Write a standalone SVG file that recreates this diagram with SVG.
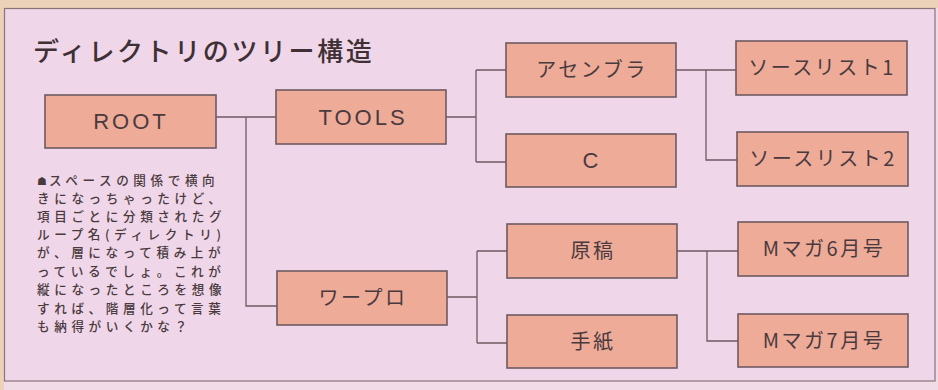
<svg xmlns="http://www.w3.org/2000/svg" width="938" height="390" viewBox="0 0 938 390">
<defs>
<style>
.box{fill:#eeab98;stroke:#6e5a62;stroke-width:1.6}
.lbl{font-family:"Noto Sans CJK JP","Noto Sans",sans-serif;font-size:20px;font-weight:400;fill:#4a3a3e;text-anchor:middle;letter-spacing:2.5px}
.lat{font-family:"Liberation Sans","Noto Sans",sans-serif;font-size:22px;fill:#4a3a3e;text-anchor:middle;letter-spacing:3px}
.cap{font-family:"Noto Sans CJK JP",sans-serif;font-size:12.6px;font-weight:500;fill:#4a3a3e;letter-spacing:4.6px}
.con{fill:none;stroke:#6e5a62;stroke-width:1.3}
</style>
</defs>
<rect x="0" y="0" width="938" height="390" fill="#f0dbe6"/>
<rect x="0" y="0" width="938" height="8" fill="#ebd2b8"/>
<rect x="0" y="0" width="4" height="390" fill="#ebd2b8"/>
<rect x="4.5" y="8.5" width="930.5" height="372.5" fill="#efd6e8" stroke="#8a7478" stroke-width="1.2"/>
<text x="33" y="61" font-family="'Noto Sans CJK JP',sans-serif" font-size="26" font-weight="500" letter-spacing="2.6" fill="#3e3034">ディレクトリのツリー構造</text>
<g id="caption" class="cap">
<text x="37" y="185"><tspan font-family="'DejaVu Sans',sans-serif" font-size="11" letter-spacing="2">☗</tspan>スペースの関係で横向</text>
<text x="37" y="203">きになっちゃったけど、</text>
<text x="37" y="221">項目ごとに分類されたグ</text>
<text x="37" y="239">ループ名(ディレクトリ)</text>
<text x="37" y="257">が、層になって積み上が</text>
<text x="37" y="275.5">っているでしょ。これが</text>
<text x="37" y="294">縦になったところを想像</text>
<text x="37" y="312.5">すれば、階層化って言葉</text>
<text x="37" y="331">も納得がいくかな？</text>
</g>
<g id="connectors" class="con">
<path d="M216,117 H276 M246,117 V306 H277"/>
<path d="M446,117 H476 M476,70 V162 M476,70 H506 M476,162 H506"/>
<path d="M676,70 H737 M706,70 V160 H737"/>
<path d="M447,297 H477 M477,251 V343 M477,251 H507 M477,343 H507"/>
<path d="M677,251 H738 M707,251 V341 H738"/>
</g>
<g id="root"><rect class="box" x="45" y="95" width="171" height="53"/><text class="lat" x="131" y="129">ROOT</text></g>
<g id="tools"><rect class="box" x="276" y="90" width="170" height="54"/><text class="lat" x="363" y="125" letter-spacing="4">TOOLS</text></g>
<g id="wapuro"><rect class="box" x="277" y="271" width="170" height="54"/><text class="lbl" x="363" y="305">ワープロ</text></g>
<g id="assembler"><rect class="box" x="506" y="43" width="170" height="54"/><text class="lbl" x="592" y="77">アセンブラ</text></g>
<g id="c"><rect class="box" x="506" y="134" width="170" height="53"/><text class="lat" x="592" y="168">C</text></g>
<g id="source1"><rect class="box" x="736" y="41" width="171" height="54"/><text class="lbl" x="822" y="75">ソースリスト1</text></g>
<g id="source2"><rect class="box" x="737" y="132" width="171" height="54"/><text class="lbl" x="823" y="166">ソースリスト2</text></g>
<g id="genko"><rect class="box" x="507" y="224" width="170" height="54"/><text class="lbl" x="593" y="258">原稿</text></g>
<g id="tegami"><rect class="box" x="507" y="315" width="170" height="53"/><text class="lbl" x="593" y="349">手紙</text></g>
<g id="mmaga6"><rect class="box" x="738" y="222" width="170" height="54"/><text class="lbl" x="824" y="256">Mマガ6月号</text></g>
<g id="mmaga7"><rect class="box" x="738" y="314" width="170" height="53"/><text class="lbl" x="824" y="348">Mマガ7月号</text></g>
</svg>
